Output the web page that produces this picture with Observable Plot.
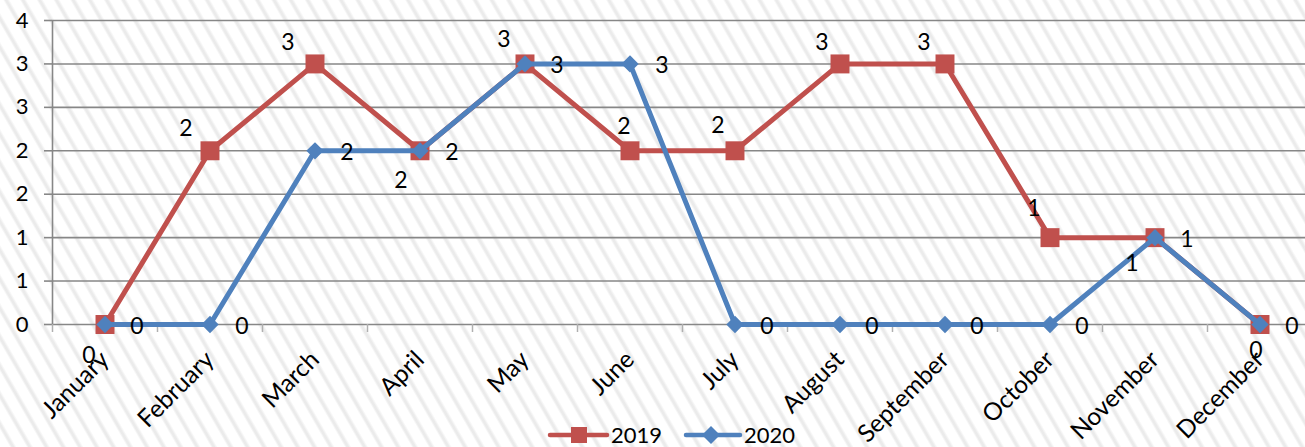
<!DOCTYPE html>
<html><head><meta charset="utf-8">
<script src="https://cdn.jsdelivr.net/npm/d3@7"></script>
<script src="https://cdn.jsdelivr.net/npm/@observablehq/plot@0.6"></script>
<style>
html,body{margin:0;padding:0;}
body{width:1305px;height:447px;overflow:hidden;position:relative;font-family:Lato,sans-serif;
background: repeating-linear-gradient(60deg, #ffffff 0px, #ffffff 8.5px, #ebebeb 10.5px, #ebebeb 12px, #ffffff 14.5px);}
#chart{position:absolute;left:0;top:0;}
#legend{position:absolute;left:0;top:418px;}
</style></head><body>
<div id="chart"></div>
<div id="legend"></div>
<script>
const months = ["January","February","March","April","May","June","July","August","September","October","November","December"];
const seriesNames = ["2019","2020"];
const values2019 = [0,2,3,2,3,2,2,3,3,1,1,0];
const values2020 = [0,0,2,2,3,3,0,0,0,0,1,0];
const yTicks = [0,0.5,1,1.5,2,2.5,3,3.5];
const yTickLabels = ["0","1","1","2","2","3","3","4"];

// styling / label placement (not data)
const colors = ["#C0504D","#4F81BD"];
const label2019Offsets = [[-16,31],[-24,-22],[-27,-21],[-19,30],[-21,-24],[-6,-24],[-17,-25],[-18,-21],[-21,-21],[-16,-29],[-23,26],[-4,26]];

const rows2019 = months.map((m,i)=>({i, v: values2019[i]}));
const rows2020 = months.map((m,i)=>({i, v: values2020[i]}));
const boundaries = d3.range(13).map(i=>i-0.5);
const gridColor = "#878787";
const fmt = d => String(d.v);

const labelMarks2019 = rows2019.map((r,k)=>Plot.text([r], {x:"i", y:"v", text:fmt, dx:label2019Offsets[k][0], dy:label2019Offsets[k][1], fontSize:23, fill:"#000"}));

const chart = Plot.plot({
  width:1305, height:447,
  marginTop:20, marginBottom:123, marginLeft:52, marginRight:0,
  style:{background:"transparent", fontFamily:"Lato, sans-serif", color:"#000", overflow:"visible"},
  x:{type:"linear", domain:[-0.5,11.5], range:[52,1312]},
  y:{domain:[0,3.5]},
  marks:[
    Plot.ruleY(yTicks, {stroke:gridColor, strokeWidth:1.6}),
    Plot.ruleX([-0.5], {stroke:gridColor, strokeWidth:1.6}),
    Plot.axisY({ticks:yTicks, tickFormat:d=>yTickLabels[yTicks.indexOf(d)], tickSize:8, tickPadding:16, stroke:gridColor, strokeWidth:1.6, fill:"#000", fontSize:22, label:null}),
    Plot.axisX({ticks:boundaries, tickSize:8, tickFormat:()=>"", stroke:"#b0b0b0", strokeWidth:1.5, label:null}),
    Plot.axisX({ticks:d3.range(12), tickSize:0, tickRotate:-45, tickPadding:31, tickFormat:i=>months[i], fontSize:24.5, fill:"#000", label:null}),
    Plot.line(rows2019, {x:"i", y:"v", stroke:colors[0], strokeWidth:5, strokeLinejoin:"round"}),
    Plot.dot(rows2019, {x:"i", y:"v", symbol:"square", r:10.7, fill:colors[0], stroke:null}),
    Plot.line(rows2020, {x:"i", y:"v", stroke:colors[1], strokeWidth:5, strokeLinejoin:"round"}),
    Plot.dot(rows2020, {x:"i", y:"v", symbol:"diamond2", r:7.8, fill:colors[1], stroke:null}),
    ...labelMarks2019,
    Plot.text(rows2020, {x:"i", y:"v", text:fmt, dx:32, dy:2, fontSize:23, fill:"#000"})
  ]
});
document.getElementById("chart").appendChild(chart);

// legend
const lg = `<svg width="1305" height="29" style="font-family:Lato,sans-serif;font-size:22px;overflow:visible">
  <line x1="550" x2="607" y1="17" y2="17" stroke="${colors[0]}" stroke-width="4.5" stroke-linecap="round"/>
  <rect x="571" y="9" width="16" height="16" fill="${colors[0]}"/>
  <text x="611" y="25" fill="#000">${seriesNames[0]}</text>
  <line x1="686" x2="740" y1="17" y2="17" stroke="${colors[1]}" stroke-width="4.5" stroke-linecap="round"/>
  <path d="M711,8 L720,17 L711,26 L702,17 Z" fill="${colors[1]}"/>
  <text x="744" y="25" fill="#000">${seriesNames[1]}</text>
</svg>`;
document.getElementById("legend").innerHTML = lg;
</script>
</body></html>
